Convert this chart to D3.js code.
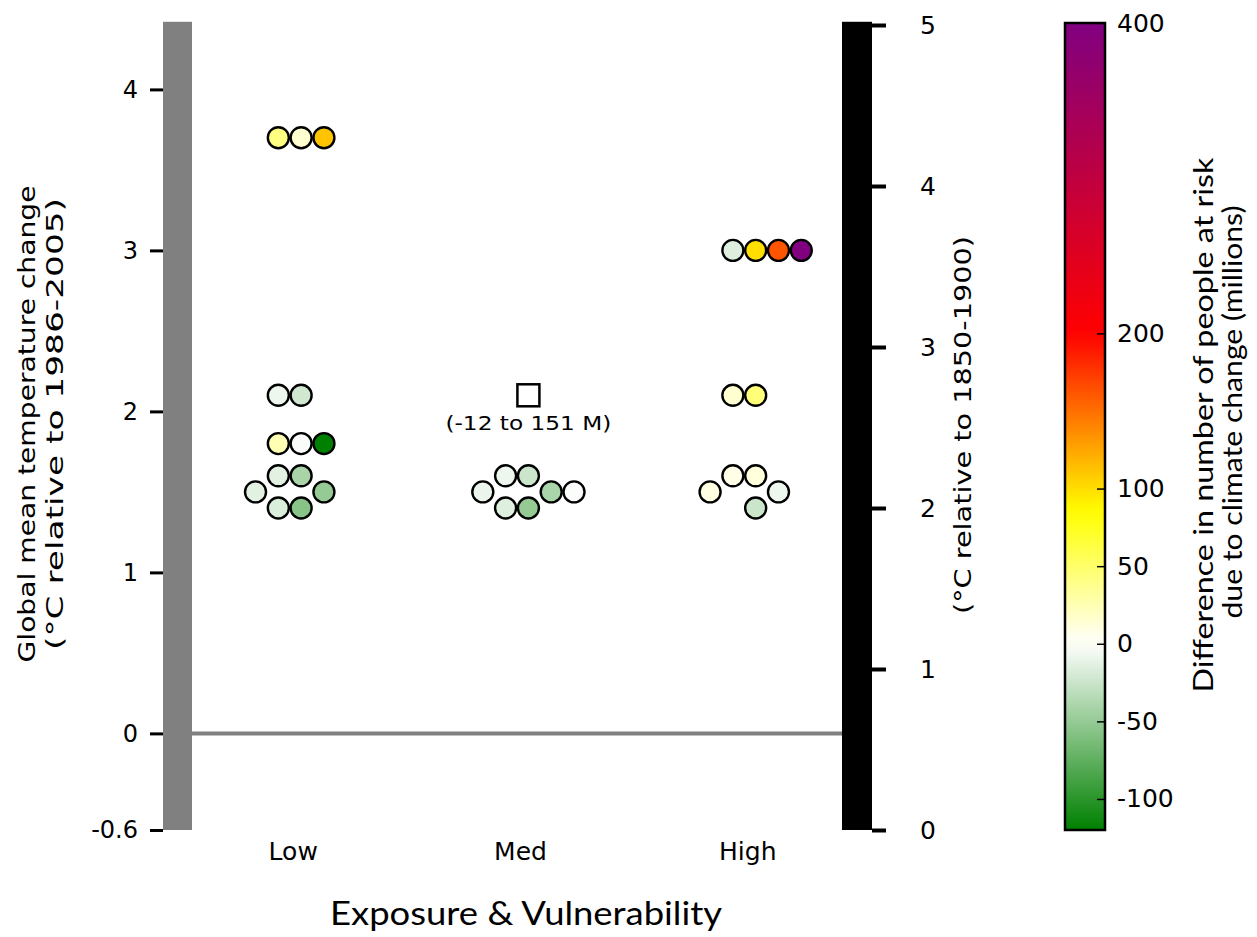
<!DOCTYPE html>
<html lang="en">
<head>
<meta charset="UTF-8">
<title>People at risk vs warming</title>
<script src="https://d3js.org/d3.v7.min.js"></script>
<style>
  body { margin: 0; background: #fff; }
  .num { font-family: 'DejaVu Sans', sans-serif; fill: #000; }
  .title { font-family: 'Lato', sans-serif; fill: #000; }
</style>
</head>
<body>
<div id="chart"></div>
<script>
// axis ticks
const tempTicks = [-0.6, 0, 1, 2, 3, 4];
const preindTicks = [0, 1, 2, 3, 4, 5];
const riskTicks = [-100, -50, 0, 50, 100, 200, 400];
const categories = ["Low", "Med", "High"];

// dots per category: temperature, slot in the row (in diameters), risk change (millions)
const lowTemp = [3.7, 3.7, 3.7, 2.1, 2.1, 1.8, 1.8, 1.8, 1.6, 1.6, 1.5, 1.5, 1.4, 1.4];
const lowSlot = [-0.5, 0.5, 1.5, -0.5, 0.5, -0.5, 0.5, 1.5, -0.5, 0.5, -1.5, 1.5, -0.5, 0.5];
const lowRisk = [42, 16, 112, -8, -22, 25, -3, -120, -13, -41, -13, -50, -17, -56];

const medTemp = [1.6, 1.6, 1.5, 1.5, 1.5, 1.4, 1.4];
const medSlot = [-0.5, 0.5, -1.5, 1.5, 2.5, -0.5, 0.5];
const medRisk = [-8, -25, -9, -40, -2, -15, -50];

const highTemp = [3, 3, 3, 3, 2.1, 2.1, 1.6, 1.6, 1.5, 1.5, 1.4];
const highSlot = [-0.5, 0.5, 1.5, 2.5, -0.5, 0.5, -0.5, 0.5, -1.5, 1.5, 0.5];
const highRisk = [-15, 100, 162, 400, 16, 45, 8, 12, 10, -8, -25];

// medium range marker
const rangeCat = "Med";
const rangeTemp = 2.1;
const rangeLabel = "(-12 to 151 M)";

const W = 1257, H = 937;
const svg = d3.select("#chart").append("svg")
    .attr("width", W).attr("height", H);

const plotLeft = 192, plotRight = 842;
const y = d3.scaleLinear().domain([-0.6, 4.4]).range([830, 25]);
const yPre = d3.scaleLinear().domain([0, 5]).range([830, 25]);
const x = d3.scalePoint().domain(categories).range([plotLeft, plotRight]).padding(0.43);

const color = d3.scaleLinear()
    .domain([-120, 0, 85, 200, 400])
    .range(["#008000", "#ffffff", "#ffff00", "#ff0000", "#800080"]);

const plain = d => String(d);

// left grey bar + axis
svg.append("rect")
    .attr("x", 163).attr("y", y(4.42))
    .attr("width", 29).attr("height", y(-0.6) - y(4.42))
    .attr("fill", "#808080");

svg.append("g")
    .attr("transform", "translate(163,0)")
    .call(d3.axisLeft(y).tickValues(tempTicks).tickSize(13).tickPadding(12).tickFormat(plain))
    .call(g => g.select(".domain").remove())
    .call(g => g.selectAll("line").attr("stroke", "#000").attr("stroke-width", 3))
    .call(g => g.selectAll("text").attr("class", "num").style("font-size", "24px"));

// zero line
svg.append("line")
    .attr("x1", plotLeft).attr("x2", plotRight)
    .attr("y1", y(0)).attr("y2", y(0))
    .attr("stroke", "#808080").attr("stroke-width", 4);

// right black bar + axis
svg.append("rect")
    .attr("x", 842).attr("y", y(4.42))
    .attr("width", 30).attr("height", y(-0.6) - y(4.42))
    .attr("fill", "#000");

svg.append("g")
    .attr("transform", "translate(872,0)")
    .call(d3.axisRight(yPre).tickValues(preindTicks).tickSize(14).tickPadding(42).tickFormat(plain))
    .call(g => g.select(".domain").remove())
    .call(g => g.selectAll("line").attr("stroke", "#000").attr("stroke-width", 4))
    .call(g => g.selectAll("text").attr("class", "num").attr("text-anchor", "middle")
        .style("font-size", "25px"));

// category labels
svg.append("g")
    .attr("transform", `translate(0,${y(-0.6)})`)
    .call(d3.axisBottom(x).tickSize(0).tickPadding(12))
    .call(g => g.select(".domain").remove())
    .call(g => g.selectAll("text").attr("class", "num").style("font-size", "25px")
        .attr("dx", 3));

// titles
svg.append("text").attr("class", "title")
    .attr("x", 526).attr("y", 925)
    .attr("text-anchor", "middle").style("font-size", "32px")
    .attr("textLength", 392).attr("lengthAdjust", "spacingAndGlyphs")
    .text("Exposure & Vulnerability");

svg.append("text").attr("class", "num")
    .attr("transform", "translate(35,424) rotate(-90)")
    .attr("text-anchor", "middle").style("font-size", "23px")
    .attr("textLength", 477).attr("lengthAdjust", "spacingAndGlyphs")
    .text("Global mean temperature change");
svg.append("text").attr("class", "num")
    .attr("transform", "translate(63,424) rotate(-90)")
    .attr("text-anchor", "middle").style("font-size", "23px")
    .attr("textLength", 452).attr("lengthAdjust", "spacingAndGlyphs")
    .text("(°C relative to 1986-2005)");

svg.append("text").attr("class", "num")
    .attr("transform", "translate(971,425) rotate(-90)")
    .attr("text-anchor", "middle").style("font-size", "23px")
    .attr("textLength", 378).attr("lengthAdjust", "spacingAndGlyphs")
    .text("(°C relative to 1850-1900)");

// dots
const groups = [
    {cat: "Low", temp: lowTemp, slot: lowSlot, risk: lowRisk},
    {cat: "Med", temp: medTemp, slot: medSlot, risk: medRisk},
    {cat: "High", temp: highTemp, slot: highSlot, risk: highRisk}
];
const r = 10.5, step = 22.8;
groups.forEach(gr => {
    const pts = gr.temp.map((t, i) => ({t, s: gr.slot[i], v: gr.risk[i]}));
    svg.append("g").selectAll("circle")
        .data(pts).join("circle")
        .attr("cx", d => x(gr.cat) + d.s * step)
        .attr("cy", d => y(d.t))
        .attr("r", r)
        .attr("fill", d => color(d.v))
        .attr("stroke", "#000").attr("stroke-width", 2.4);
});

// range marker
svg.append("rect")
    .attr("x", x(rangeCat) + 0.5 * step - 11).attr("y", y(rangeTemp) - 11)
    .attr("width", 22).attr("height", 22)
    .attr("fill", "#fff").attr("stroke", "#000").attr("stroke-width", 2.5);
svg.append("text").attr("class", "num")
    .attr("x", x(rangeCat) + 0.5 * step).attr("y", y(rangeTemp) + 35)
    .attr("text-anchor", "middle").style("font-size", "19px")
    .attr("textLength", 166).attr("lengthAdjust", "spacingAndGlyphs")
    .text(rangeLabel);

// colorbar
const cb = d3.scaleLinear().domain([-120, 400]).range([830, 23]);
const defs = svg.append("defs");
const grad = defs.append("linearGradient").attr("id", "cbgrad")
    .attr("x1", 0).attr("x2", 0).attr("y1", 1).attr("y2", 0);
d3.range(0, 1.0001, 0.02).forEach(f => {
    const v = -120 + f * 520;
    grad.append("stop").attr("offset", f).attr("stop-color", color(v));
});
svg.append("rect")
    .attr("x", 1065).attr("y", cb(400))
    .attr("width", 40).attr("height", cb(-120) - cb(400))
    .attr("fill", "url(#cbgrad)")
    .attr("stroke", "#000").attr("stroke-width", 2.5);

svg.append("g")
    .attr("transform", "translate(1105,0)")
    .call(d3.axisLeft(cb).tickValues(riskTicks).tickSize(8).tickFormat(plain))
    .call(g => g.select(".domain").remove())
    .call(g => g.selectAll("line").attr("stroke", "#000").attr("stroke-width", 1.5))
    .call(g => g.selectAll("text").attr("class", "num")
        .attr("x", 12).attr("text-anchor", "start").style("font-size", "25px"));

svg.append("text").attr("class", "title")
    .attr("transform", "translate(1213,425) rotate(-90)")
    .attr("text-anchor", "middle").style("font-size", "27px")
    .attr("textLength", 535).attr("lengthAdjust", "spacingAndGlyphs")
    .text("Difference in number of people at risk");
svg.append("text").attr("class", "title")
    .attr("transform", "translate(1242,412) rotate(-90)")
    .attr("text-anchor", "middle").style("font-size", "27px")
    .attr("textLength", 413).attr("lengthAdjust", "spacingAndGlyphs")
    .text("due to climate change (millions)");
</script>
</body>
</html>
